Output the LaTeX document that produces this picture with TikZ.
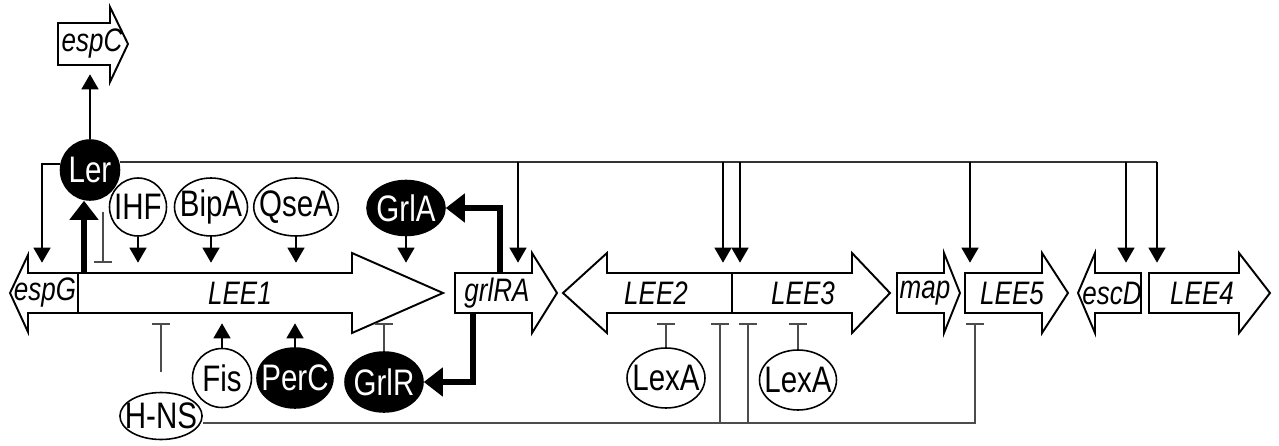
\documentclass[tikz,border=0pt]{standalone}
\usepackage{fontspec}
\setmainfont{Liberation Sans}[FakeStretch=0.8]
\usetikzlibrary{arrows.meta, shapes.geometric}

\begin{document}
\begin{tikzpicture}[
    x=0.02cm, y=-0.02cm,
    >={Triangle[length=0.3cm, width=0.34cm]},
    gene/.style={draw, fill=white, line width=1.1pt, line join=miter},
    glabel/.style={inner sep=0pt, minimum height=1.2cm, font=\fontsize{18.5}{18.5}\selectfont\itshape},
    prot/.style={draw, ellipse, inner xsep=-4pt, inner ysep=0pt, line width=0.9pt, font=\fontsize{21}{21}\selectfont},
    blackprot/.style={prot, fill=black, text=white},
    link/.style={line width=0.9pt, ->},
    bold link/.style={line width=0.12cm, -{Triangle[length=0.38cm, width=0.56cm]}},
    repress/.style={line width=0.9pt, black!70, -{Bar[width=0.36cm]}},
    bus/.style={line width=0.9pt, black!80}
  ]
  \useasboundingbox (0,0) rectangle (1279,446);

  % Genes
  \draw[gene] (58,23) -- (110,23) -- (110,7) -- (128,44) -- (110,82) -- (110,65) -- (58,65) -- cycle;
  \draw[gene] (78,273) -- (28,273) -- (28,255) -- (10,293) -- (28,332) -- (28,313) -- (78,313) -- cycle;
  \draw[gene] (78,273) -- (352,273) -- (352,253) -- (443,293) -- (352,333) -- (352,313) -- (78,313) -- cycle;
  \draw[gene] (455,273) -- (532,273) -- (532,253) -- (557,293) -- (532,333) -- (532,313) -- (455,313) -- cycle;
  \draw[gene] (732,273) -- (607,273) -- (607,253) -- (563,293) -- (607,333) -- (607,313) -- (732,313) -- cycle;
  \draw[gene] (732,273) -- (852,273) -- (852,253) -- (890,293) -- (852,333) -- (852,313) -- (732,313) -- cycle;
  \draw[gene] (897,273) -- (944,273) -- (944,253) -- (960,293) -- (944,333) -- (944,313) -- (897,313) -- cycle;
  \draw[gene] (965,273) -- (1042,273) -- (1042,253) -- (1068,293) -- (1042,333) -- (1042,313) -- (965,313) -- cycle;
  \draw[gene] (1141,273) -- (1095,273) -- (1095,253) -- (1078,293) -- (1095,333) -- (1095,313) -- (1141,313) -- cycle;
  \draw[gene] (1149,273) -- (1239,273) -- (1239,253) -- (1270,293) -- (1239,333) -- (1239,313) -- (1149,313) -- cycle;

  \node[glabel] (espC) at (92,44) {espC};
  \node[glabel] (espG) at (45,293) {espG};
  \node[glabel] (LEE1) at (240,293) {LEE1};
  \node[glabel] (grlRA) at (497,293) {grlRA};
  \node[glabel] (LEE2) at (656,293) {LEE2};
  \node[glabel] (LEE3) at (803,293) {LEE3};
  \node[glabel] (map) at (925,293) {map};
  \node[glabel] (LEE5) at (1012,293) {LEE5};
  \node[glabel] (escD) at (1112,293) {escD};
  \node[glabel] (LEE4) at (1202,293) {LEE4};

  % Regulators
  \node[blackprot, minimum width=1.18cm, minimum height=1.2cm] (Ler) at (90,170) {Ler};
  \node[prot, minimum width=1.14cm, minimum height=1.16cm] (IHF) at (138,207) {IHF};
  \node[prot, minimum width=1.46cm, minimum height=1.16cm] (BipA) at (211,207) {BipA};
  \node[prot, minimum width=1.5cm, minimum height=1.16cm] (QseA) at (296,207) {QseA};
  \node[blackprot, minimum width=1.56cm, minimum height=1.1cm] (GrlA) at (406,208) {GrlA};
  \node[prot, minimum width=1.18cm, minimum height=1.18cm] (Fis) at (222,378) {Fis};
  \node[blackprot, minimum width=1.52cm, minimum height=1.2cm] (PerC) at (295,378) {PerC};
  \node[blackprot, minimum width=1.56cm, minimum height=1.2cm] (GrlR) at (384,382) {GrlR};
  \node[prot, minimum width=1.64cm, minimum height=0.94cm] (HNS) at (161,416) {H-NS};
  \node[prot, minimum width=1.56cm, minimum height=1.2cm] (LexAa) at (666,378) {LexA};
  \node[prot, minimum width=1.54cm, minimum height=1.2cm] (LexAb) at (798,380) {LexA};

  % Ler targets
  \coordinate (lerA) at (42,164);
  \coordinate (lerB) at (518,162);
  \coordinate (lerC) at (723,162);
  \coordinate (lerD) at (740,162);
  \coordinate (lerE) at (970,162);
  \coordinate (lerF) at (1126,162);
  \coordinate (lerG) at (1157,162);
  \draw[link] (Ler) -- (Ler |- espC.south);
  \draw[link] (Ler.west |- lerA) -- (lerA) -- (lerA |- espG.north);
  \draw[bus] (Ler.east |- lerG) -- (lerG);
  \foreach \t/\g in {lerB/grlRA, lerC/LEE2, lerD/LEE3, lerE/LEE5, lerF/escD, lerG/LEE4}
    \draw[link] (\t) -- (\t |- \g.north);

  % LEE1 regulation
  \coordinate (lerUp) at (84,273);
  \coordinate (lerSelf) at (103,212);
  \draw[bold link] (lerUp) -- (lerUp |- Ler.south);
  \draw[repress] (lerSelf) -- (lerSelf |- LEE1.north);
  \foreach \p in {IHF, BipA, QseA, GrlA}
    \draw[link] (\p) -- (\p |- LEE1.north);
  \foreach \p in {Fis, PerC}
    \draw[link] (\p) -- (\p |- LEE1.south);
  \draw[repress] (GrlR) -- (GrlR |- LEE1.south);
  \draw[repress, shorten <=0.4cm] (HNS) -- (HNS |- LEE1.south);

  % grlRA products
  \coordinate (grlAout) at (500,273);
  \coordinate (grlRout) at (473,313);
  \draw[bold link] (grlAout) |- (GrlA.east);
  \draw[bold link] (grlRout) |- (GrlR.east);

  % LexA and H-NS
  \draw[repress] (LexAa) -- (LexAa |- LEE2.south);
  \draw[repress] (LexAb) -- (LexAb |- LEE3.south);
  \coordinate (hnsA) at (720,423);
  \coordinate (hnsB) at (748,423);
  \coordinate (hnsC) at (975,423);
  \draw[repress] (HNS.east |- hnsC) -- (hnsC) -- (hnsC |- LEE5.south);
  \draw[repress] (hnsA) -- (hnsA |- LEE2.south);
  \draw[repress] (hnsB) -- (hnsB |- LEE3.south);
\end{tikzpicture}
\end{document}
